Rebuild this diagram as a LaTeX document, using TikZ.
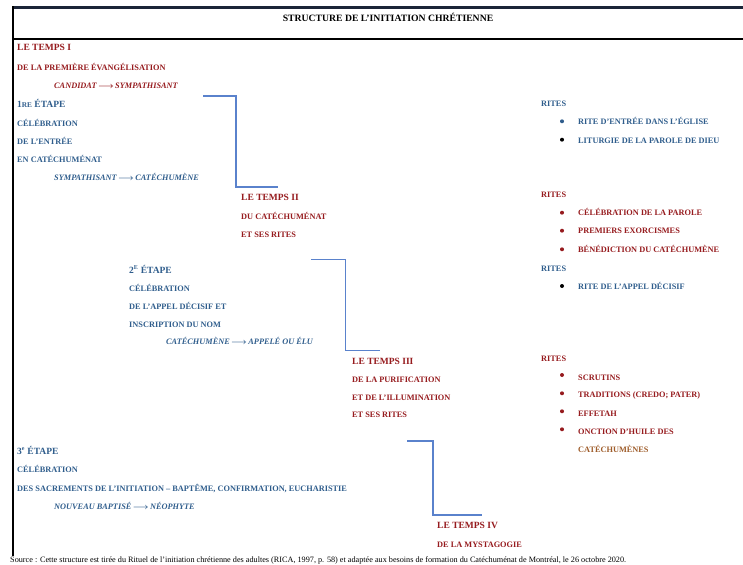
\documentclass[tikz,border=0pt]{standalone}
\usepackage{fontspec}
\setmainfont{Liberation Serif}
\definecolor{tred}{HTML}{961B1E}
\definecolor{tblue}{HTML}{2F5D8C}
\definecolor{tbrown}{HTML}{9E5C2A}
\definecolor{conn}{HTML}{5A82CC}
\definecolor{navy}{HTML}{1B2538}
\tikzset{
  lbl/.style={inner sep=0pt, anchor=base west, font=\fontsize{8.3}{9}\selectfont\bfseries},
  hd/.style={lbl, font=\fontsize{9.5}{10}\selectfont\bfseries},
  itl/.style={lbl, font=\fontsize{8.3}{9}\selectfont\bfseries\itshape},
  rd/.style={text=tred},
  bl/.style={text=tblue},
  link/.style={draw=conn, line width=1.3pt},
  bul/.style={circle, fill=#1, inner sep=0pt, minimum size=4pt},
  frame/.style={line width=2.4pt},
}
\newcommand{\arr}{\,{\boldmath$\longrightarrow$}\,}
\begin{document}
\begin{tikzpicture}[x=1pt,y=-1pt]
\useasboundingbox (0,0) rectangle (743,564);
% frame
\draw[frame, draw=navy] (12,7.5) -- (743,7.5);
\draw[frame, draw=black] (12,39) -- (743,39);
\draw[frame, draw=black] (13,6.3) -- (13,556);
\node[inner sep=0pt, font=\fontsize{9.7}{11}\selectfont\bfseries] (title) at (388,17) {STRUCTURE DE L’INITIATION CHRÉTIENNE};

% left column
\node[hd, rd] (t1) at (17,51) {LE TEMPS I};
\node[lbl, rd] (t1a) at (17,71) {DE LA PREMIÈRE ÉVANGÉLISATION};
\node[itl, rd] (t1b) at (54,89) {CANDIDAT\arr SYMPATHISANT};
\node[hd, bl] (e1) at (17,108) {1{\fontsize{7.3}{8}\selectfont RE} ÉTAPE};
\node[lbl, bl] (e1a) at (17,127) {CÉLÉBRATION};
\node[lbl, bl] (e1b) at (17,145) {DE L’ENTRÉE};
\node[lbl, bl] (e1c) at (17,162.5) {EN CATÉCHUMÉNAT};
\node[itl, bl] (e1d) at (54,180.5) {SYMPATHISANT\arr CATÉCHUMÈNE};

\node[hd, rd] (t2) at (241,200.5) {LE TEMPS II};
\node[lbl, rd] (t2a) at (241,219.5) {DU CATÉCHUMÉNAT};
\node[lbl, rd] (t2b) at (241,237) {ET SES RITES};

\node[hd, bl] (e2) at (129,273.5) {2\textsuperscript{\fontsize{6}{7}\selectfont E} ÉTAPE};
\node[lbl, bl] (e2a) at (129,291.5) {CÉLÉBRATION};
\node[lbl, bl] (e2b) at (129,309) {DE L’APPEL DÉCISIF ET};
\node[lbl, bl] (e2c) at (129,327) {INSCRIPTION DU NOM};
\node[itl, bl] (e2d) at (166,344.5) {CATÉCHUMÈNE\arr APPELÉ OU ÉLU};

\node[hd, rd] (t3) at (352,364.5) {LE TEMPS III};
\node[lbl, rd] (t3a) at (352,382.5) {DE LA PURIFICATION};
\node[lbl, rd] (t3b) at (352,400) {ET DE L’ILLUMINATION};
\node[lbl, rd] (t3c) at (352,417.5) {ET SES RITES};

\node[hd, bl] (e3) at (17,454) {3\textsuperscript{\fontsize{6}{7}\selectfont e} ÉTAPE};
\node[lbl, bl] (e3a) at (17,472.5) {CÉLÉBRATION};
\node[lbl, bl] (e3b) at (17,491.5) {DES SACREMENTS DE L’INITIATION – BAPTÊME, CONFIRMATION, EUCHARISTIE};
\node[itl, bl] (e3c) at (54,509) {NOUVEAU BAPTISÉ\arr NÉOPHYTE};

\node[hd, rd] (t4) at (437,528.5) {LE TEMPS IV};
\node[lbl, rd] (t4a) at (437,547.5) {DE LA MYSTAGOGIE};

\node[inner sep=0pt, anchor=base west, font=\fontsize{8.2}{9}\selectfont] (src) at (10,562.5) {Source : Cette structure est tirée du Rituel de l’initiation chrétienne des adultes (RICA, 1997, p. 58) et adaptée aux besoins de formation du Catéchuménat de Montréal, le 26 octobre 2020.};

% connectors
\coordinate (c1a) at (203,96);
\coordinate (c1m) at (236,140);
\coordinate (c1b) at (278,187);
\draw[link] (c1a) -| (c1m) |- (c1b);
\coordinate (c2a) at (311,259.5);
\coordinate (c2m) at (345.5,300);
\coordinate (c2b) at (380,350.5);
\draw[link] (c2a) -| (c2m) |- (c2b);
\coordinate (c3a) at (407,441);
\coordinate (c3m) at (433,480);
\coordinate (c3b) at (482,515);
\draw[link] (c3a) -| (c3m) |- (c3b);

% right column
\node[lbl, bl] (r1) at (541,106.5) {RITES};
\node[bul=tblue] (b11) at (562,121.3) {};
\node[lbl, bl] (r11) at (578,125) {RITE D’ENTRÉE DANS L’ÉGLISE};
\node[bul=black] (b12) at (562,139.7) {};
\node[lbl, bl] (r12) at (578,143.3) {LITURGIE DE LA PAROLE DE DIEU};

\node[lbl, rd] (r2) at (541,197.3) {RITES};
\node[bul=tred] (b21) at (562,212.7) {};
\node[lbl, rd] (r21) at (578,215.7) {CÉLÉBRATION DE LA PAROLE};
\node[bul=tred] (b22) at (562,230.7) {};
\node[lbl, rd] (r22) at (578,233.7) {PREMIERS EXORCISMES};
\node[bul=tred] (b23) at (562,249.3) {};
\node[lbl, rd] (r23) at (578,252.3) {BÉNÉDICTION DU CATÉCHUMÈNE};

\node[lbl, bl] (r3) at (541,271) {RITES};
\node[bul=black] (b31) at (562,286) {};
\node[lbl, bl] (r31) at (578,289) {RITE DE L’APPEL DÉCISIF};

\node[lbl, rd] (r4) at (541,361.7) {RITES};
\node[bul=tred] (b41) at (562,375) {};
\node[lbl, rd] (r41) at (578,380) {SCRUTINS};
\node[bul=tred] (b42) at (562,393.3) {};
\node[lbl, rd] (r42) at (578,397.5) {TRADITIONS (CREDO; PATER)};
\node[bul=tred] (b43) at (562,411.3) {};
\node[lbl, rd] (r43) at (578,416.5) {EFFETAH};
\node[bul=tred] (b44) at (562,429.3) {};
\node[lbl, rd] (r44) at (578,434.3) {ONCTION D’HUILE DES};
\node[lbl, text=tbrown] (r45) at (578,452.3) {CATÉCHUMÈNES};
\end{tikzpicture}
\end{document}
